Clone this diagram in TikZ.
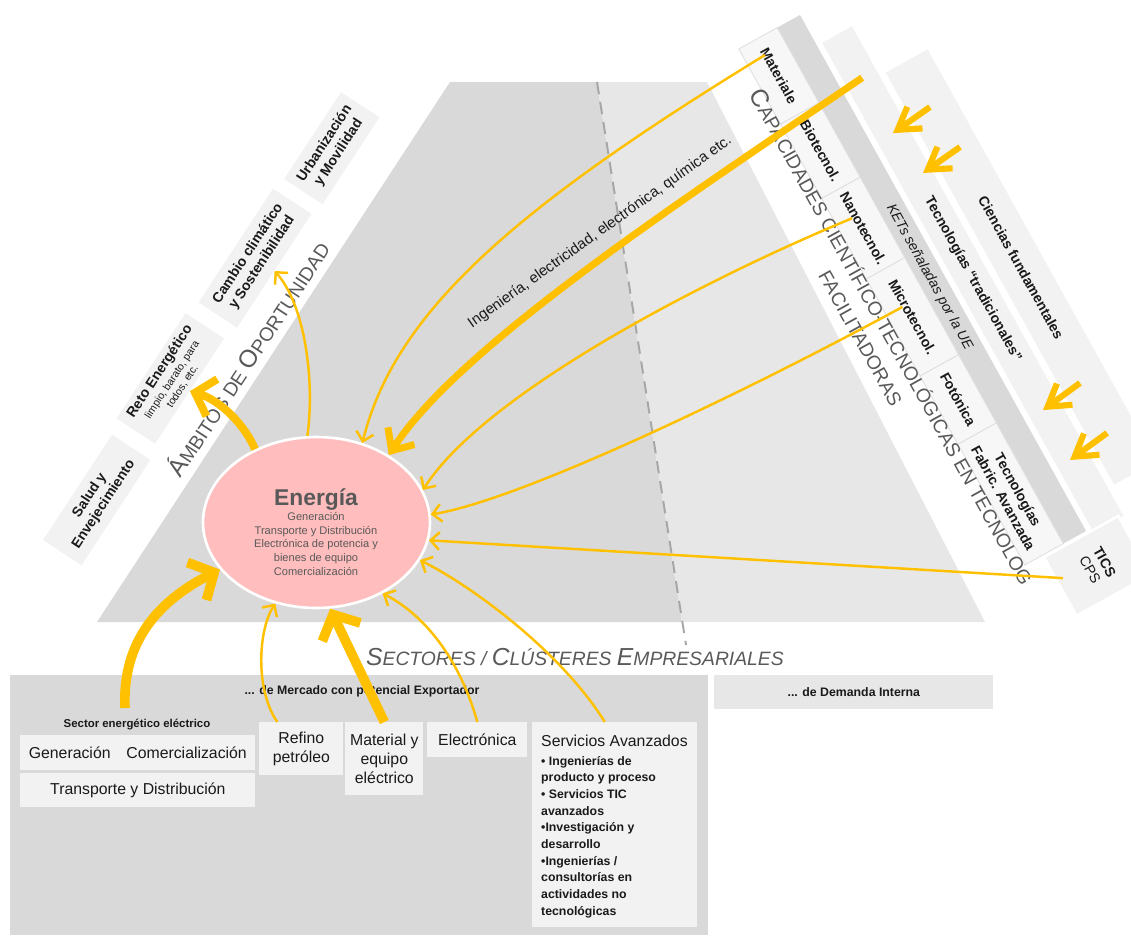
\documentclass[tikz,border=0pt]{standalone}
\usepackage{fontspec}
\setmainfont{Liberation Sans}
\usetikzlibrary{arrows.meta,shapes.geometric}
\definecolor{dkgray}{HTML}{D9D9D9}
\definecolor{ltgray}{HTML}{E7E7E7}
\definecolor{boxgray}{HTML}{F2F2F2}
\definecolor{ketgray}{HTML}{F7F7F7}
\definecolor{amber}{HTML}{FFC000}
\definecolor{rosa}{HTML}{FFBDBD}
\definecolor{txtgray}{HTML}{595959}
\definecolor{txtdark}{HTML}{1A1A1A}
\newcommand{\bigini}[1]{{\fontsize{14}{14}\selectfont #1}}
\newcommand{\smalltxt}[1]{{\mdseries\fontsize{6}{7}\selectfont #1}}
\tikzset{
  ambbox/.style={fill=boxgray,transform shape,minimum height=0.92cm,inner sep=1pt,align=center,text=txtdark,font=\bfseries\fontsize{8}{9.5}\selectfont},
  ketbox/.style={fill=ketgray,draw=black!12,line width=0.5pt,transform shape,minimum height=0.88cm,inner sep=1pt,align=center,text=txtdark,font=\bfseries\fontsize{8}{9.5}\selectfont},
  striplabel/.style={transform shape,text=txtdark,font=\bfseries\fontsize{8}{9.5}\selectfont},
  secbox/.style={fill=boxgray,anchor=north west,inner sep=1pt,align=center,text=txtdark,font=\fontsize{9}{11}\selectfont},
  headtxt/.style={text=txtdark,font=\bfseries\fontsize{7}{8}\selectfont},
  feed/.style={amber,line width=1.4pt,-{Straight Barb[length=5pt,width=10pt]}},
  bigfeed/.style={amber,line width=5.5pt,-{Straight Barb[length=11pt,width=24pt]}},
  chevron/.style={amber,line width=3.5pt,-{Straight Barb[length=12pt,width=15pt]}},
}
\begin{document}
\begin{tikzpicture}[x=0.02cm,y=0.02cm]
\useasboundingbox (0,0) rectangle (1131,-937);
\clip (0,0) rectangle (1131,-937);
% trapezoid
\fill[dkgray] (450,-82) -- (597,-82) -- (682,-622) -- (97,-622) -- cycle;
\fill[ltgray] (597,-82) -- (707,-82) -- (985,-622) -- (682,-622) -- cycle;
\draw[black!35,line width=1.1pt,dash pattern=on 7pt off 4.5pt] (597,-82) -- (686,-645);

% ambitos
\begin{scope}[shift={(97,-622)},rotate=56.8]
\node[ambbox,minimum width=2.52cm] (salud) at (102,67) {Salud y\\Envejecimiento};
\node[ambbox,minimum width=2.52cm] (reto) at (244,72) {Reto Energético\\[-1.5pt]\smalltxt{limpio, barato, para}\\[-2.5pt]\smalltxt{todos, etc.}};
\node[ambbox,minimum width=2.72cm] (cambio) at (391,67) {Cambio climático\\y Sostenibilidad};
\node[ambbox,minimum width=2.08cm] (urb) at (525,63) {Urbanización\\y Movilidad};
\node[transform shape,text=txtgray,font=\fontsize{11}{13}\selectfont] (ambitos) at (303,19) {\bigini{Á}MBITOS DE \bigini{O}PORTUNIDAD};
\end{scope}

% capacidades
\begin{scope}[shift={(800,-15)},rotate=-61]
\fill[boxgray] (92,47) rectangle (563,95);
\fill[boxgray] (35,6) rectangle (595,40);
\fill[dkgray] (0,-26) rectangle (590,0);
\node[ketbox,minimum width=1.72cm] (mat) at (43,-48) {Materiale};
\node[ketbox,minimum width=1.7cm] (bio) at (128.5,-48) {Biotecnol.};
\node[ketbox,minimum width=1.84cm] (nano) at (217,-48) {Nanotecnol.};
\node[ketbox,minimum width=2.22cm] (micro) at (318.5,-48) {Microtecnol.};
\node[ketbox,minimum width=1.56cm] (foto) at (413,-48) {Fotónica};
\node[ketbox,minimum width=2.76cm] (fabric) at (521,-48) {Tecnologías\\Fabric. Avanzada};
\node[transform shape,text=txtdark,font=\itshape\fontsize{8}{9}\selectfont] (kets) at (292,-14) {KETs señaladas por la UE};
\node[striplabel] (trad) at (315,23) {Tecnologías “tradicionales”};
\node[striplabel] (cienc) at (328,71) {Ciencias fundamentales};
\node[ketbox,draw=white,line width=1.5pt,fill=boxgray,minimum width=1.34cm,minimum height=1.7cm,font=\fontsize{8}{9.5}\selectfont] (tics) at (626,-7) {\textbf{TICS}\\CPS};
\node[transform shape,text=txtgray,font=\fontsize{11}{13}\selectfont] (capac) at (326,-75) {\bigini{C}APACIDADES CIENTÍFICO-TECNOLÓGICAS EN TECNOLOG};
\node[transform shape,text=txtgray,font=\fontsize{11}{13}\selectfont] (facil) at (312,-104) {FACILITADORAS};
\coordinate (matfoot) at (18,-50);
\coordinate (tradfoot) at (85,24);
\coordinate (nanofoot) at (203,-53);
\coordinate (microfoot) at (305,-52);
\coordinate (ticsfoot) at (620,-43);
\draw[chevron] (143.5,69) -- (148.3,24);
\draw[chevron] (193,76) -- (197.8,31);
\draw[chevron] (457.6,66.5) -- (463.3,21);
\draw[chevron] (514.4,66) -- (520.1,20.4);
\end{scope}

% energia
\node[ellipse,fill=rosa,draw=white,line width=1.5pt,minimum width=4.54cm,minimum height=3.42cm,inner sep=0pt] (energia) at (316.5,-522.5) {};
\node[align=center,text=txtgray,font=\fontsize{6.3}{7.7}\selectfont] (energiatxt) at (316,-532) {{\bfseries\fontsize{13}{15}\selectfont Energía}\\[1pt]Generación\\Transporte y Distribución\\Electrónica de potencia y\\bienes de equipo\\Comercialización};

% sectores
\fill[dkgray] (10,-675) rectangle (708,-935);
\node[text=txtgray,font=\itshape\fontsize{11}{13}\selectfont] (sectores) at (575,-657) {\bigini{S}ECTORES / \bigini{C}LÚSTERES \bigini{E}MPRESARIALES};
\node[headtxt] (mercado) at (362,-691) {... de Mercado con potencial Exportador};
\node[fill=ltgray,minimum width=5.58cm,minimum height=0.68cm,anchor=north west,headtxt] (demanda) at (714,-675) {... de Demanda Interna};
\node[headtxt,font=\bfseries\fontsize{6.5}{8}\selectfont] (seclabel) at (137,-725) {Sector energético eléctrico};
\coordinate (secfoot) at (125,-708);
\node[secbox,minimum width=4.7cm,minimum height=0.7cm] (gencom) at (20,-735) {Generación\hspace{1em}Comercialización};
\node[secbox,minimum width=4.7cm,minimum height=0.68cm] (transp) at (20,-773) {Transporte y Distribución};
\node[secbox,minimum width=1.68cm,minimum height=1.06cm] (refino) at (259,-722) {Refino\\petróleo};
\node[secbox,minimum width=1.56cm,minimum height=1.46cm] (material) at (345,-722) {Material y\\equipo\\eléctrico};
\node[secbox,minimum width=2cm,minimum height=0.7cm] (electro) at (427,-722) {Electrónica};
\node[secbox,minimum width=3.3cm,minimum height=4.1cm] (servicios) at (532,-722) {};
\node[anchor=north west,align=left,text=txtdark,font=\bfseries\fontsize{7}{9.5}\selectfont] (servtxt) at (535,-729) {{\mdseries\fontsize{9}{11}\selectfont Servicios Avanzados}\\[1pt]• Ingenierías de\\producto y proceso\\• Servicios TIC\\avanzados\\•Investigación y\\desarrollo\\•Ingenierías /\\consultorías en\\actividades no\\tecnológicas};

% flechas
\draw[feed] (matfoot) .. controls (520,-205) and (395,-310) .. (energia.60);
\draw[amber,line width=4pt,-{Straight Barb[length=10pt,width=18pt]}] (tradfoot) .. controls (690,-195) and (460,-345) .. (energia.43);
\node[rotate=35.5,text=txtdark,font=\fontsize{8.5}{9.5}\selectfont] (inglabel) at (600,-232) {Ingeniería, electricidad, electrónica, química etc.};
\draw[feed] (nanofoot) .. controls (680,-290) and (480,-400) .. (energia.17);
\draw[feed] (microfoot) .. controls (740,-395) and (520,-500) .. (energia.4);
\draw[feed] (ticsfoot) -- (energia.-9);
\draw[bigfeed] (secfoot) .. controls (122,-640) and (160,-600) .. (energia.206);
\draw[feed] ([xshift=-0.48cm]refino.north) .. controls (255,-690) and (258,-630) .. (energia.-117);
\draw[bigfeed] (material.north) -- (energia.-81);
\draw[feed] (electro.north) .. controls (460,-660) and (425,-615) .. (energia.-47);
\draw[feed] ([xshift=-0.2cm]servicios.north) .. controls (560,-650) and (470,-585) .. (energia.-20);
\draw[amber,line width=4.5pt,-{Straight Barb[length=10pt,width=22pt]}] (energia.130) .. controls (245,-425) and (220,-400) .. (reto.south);
\draw[feed] (energia.96) .. controls (315,-380) and (305,-305) .. (cambio.south);
\end{tikzpicture}
\end{document}
